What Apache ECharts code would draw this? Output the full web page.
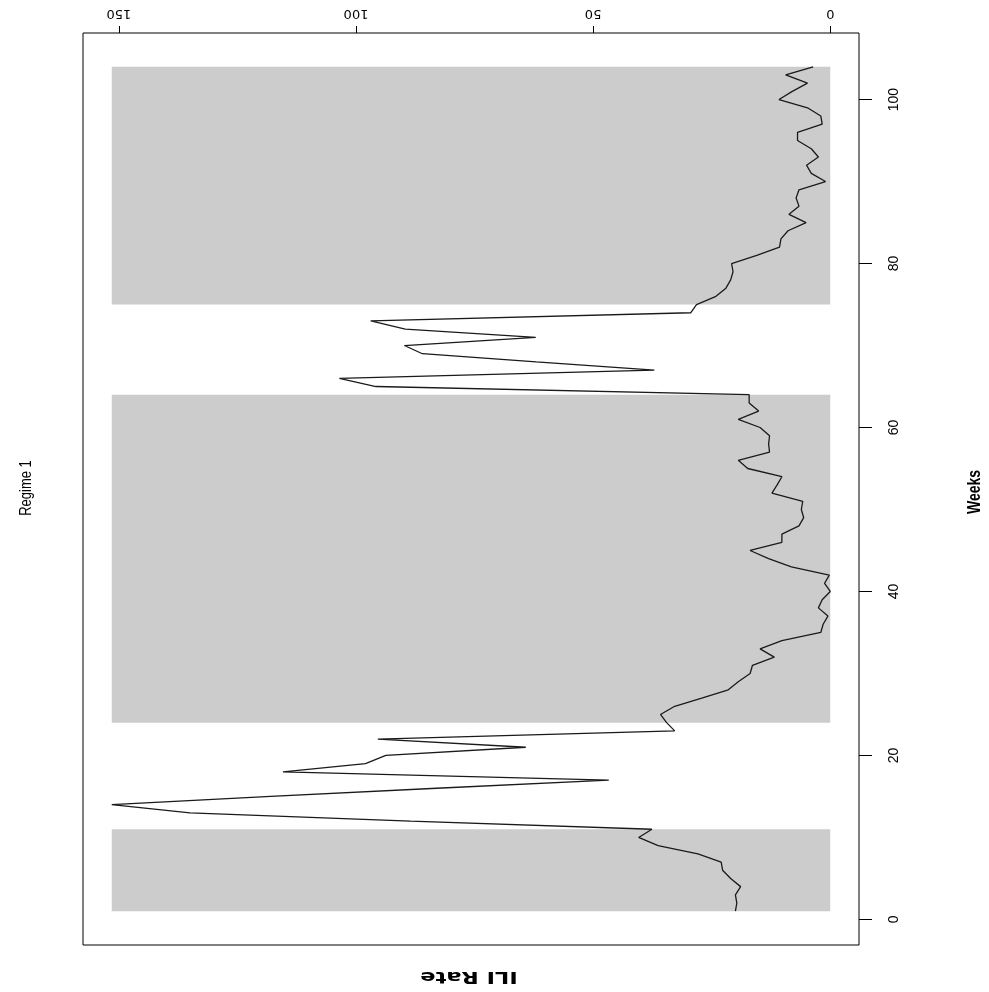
<!DOCTYPE html>
<html><head><meta charset="utf-8">
<script src="https://cdn.jsdelivr.net/npm/echarts@6/dist/echarts.min.js"></script>
<style>html,body{margin:0;padding:0;background:#fff}#c{width:989px;height:992px}</style>
</head><body><div id="c"></div>
<script>
// Weeks (vertical axis in this rotated figure)
const weeks = [1,2,3,4,5,6,7,8,9,10,11,12,13,14,15,16,17,18,19,20,
  21,22,23,24,25,26,27,28,29,30,31,32,33,34,35,36,37,38,39,40,
  41,42,43,44,45,46,47,48,49,50,51,52,53,54,55,56,57,58,59,60,
  61,62,63,64,65,66,67,68,69,70,71,72,73,74,75,76,77,78,79,80,
  81,82,83,84,85,86,87,88,89,90,91,92,93,94,95,96,97,98,99,100,
  101,102,103,104];
// ILI rate per week
const iliRate = [20.0,19.7,20.0,18.9,21.0,22.7,23.0,27.9,36.3,40.4,
  37.6,88.5,135.0,151.5,118.0,83.0,46.7,115.4,98.0,93.7,
  64.2,95.4,32.8,34.5,35.8,32.8,27.1,21.5,19.4,16.9,
  16.4,11.8,14.8,10.2,2.0,1.5,0.5,2.5,1.7,0.0,
  1.2,0.2,8.2,13.0,16.9,10.2,10.2,6.6,5.6,6.1,
  5.8,12.3,11.2,10.2,17.4,19.4,12.8,13.0,12.8,14.8,
  19.4,15.1,17.1,17.1,95.8,103.5,37.1,62.0,86.0,89.8,
  62.1,89.6,96.9,29.4,28.2,24.1,22.0,21.0,20.5,20.8,
  15.5,10.7,10.4,8.9,5.1,8.7,6.6,7.2,6.6,1.0,
  4.0,5.0,2.5,4.0,6.9,6.9,1.7,2.0,4.8,10.8,
  8.0,4.8,9.4,3.6];
// Shaded regime periods (weeks)
const regimeStart = [1, 24, 75];
const regimeEnd = [11, 64, 104];
// Tick labels
const rateTicks = [0, 50, 100, 150];
const weekTicks = [0, 20, 40, 60, 80, 100];
const titleText = 'Regime 1';
const xLabel = 'Weeks';
const yLabel = 'ILI Rate';

const rMin = Math.min(...iliRate), rMax = Math.max(...iliRate);
const wMin = Math.min(...weeks), wMax = Math.max(...weeks);
const rPad = (rMax - rMin) * 0.04, wPad = (wMax - wMin) * 0.04;

const seriesData = weeks.map((w, i) => [iliRate[i], w]);
const areas = regimeStart.map((s, i) => [
  { xAxis: rMin, yAxis: s },
  { xAxis: rMax, yAxis: regimeEnd[i] }
]);

const chart = echarts.init(document.getElementById('c'), null, { renderer: 'canvas' });
chart.setOption({
  animation: false,
  backgroundColor: '#ffffff',
  grid: { left: 83, top: 33, width: 776, height: 912, show: true,
    borderColor: '#000', borderWidth: 1, backgroundColor: 'transparent' },
  xAxis: {
    type: 'value', position: 'top', inverse: true,
    min: rMin - rPad, max: rMax + rPad,
    axisLine: { show: false, onZero: false }, splitLine: { show: false },
    axisTick: { show: true, length: 7, customValues: rateTicks, lineStyle: { color: '#000' } },
    axisLabel: { customValues: rateTicks, rotate: 180, margin: 13,
      fontFamily: 'DejaVu Sans', fontSize: 13, color: '#000' }
  },
  yAxis: {
    type: 'value', position: 'right',
    min: wMin - wPad, max: wMax + wPad,
    axisLine: { show: false, onZero: false }, splitLine: { show: false },
    axisTick: { show: true, length: 13, customValues: weekTicks, lineStyle: { color: '#000' } },
    axisLabel: { customValues: weekTicks, rotate: 90, margin: 28,
      fontFamily: 'Liberation Sans', fontSize: 14, color: '#000' }
  },
  graphic: [
    { type: 'text', x: 27, y: 488, rotation: Math.PI / 2, scaleY: 1.2,
      style: { text: titleText, font: '13px "Liberation Sans"', fill: '#000', align: 'center', verticalAlign: 'middle' } },
    { type: 'text', x: 975, y: 492, rotation: Math.PI / 2, scaleY: 1.35,
      style: { text: xLabel, font: 'bold 14px "Liberation Sans"', fill: '#000', align: 'center', verticalAlign: 'middle' } },
    { type: 'text', x: 469, y: 976, rotation: Math.PI, scaleX: 1.5,
      style: { text: yLabel, font: 'bold 15px "DejaVu Sans"', fill: '#000', align: 'center', verticalAlign: 'middle' } }
  ],
  series: [{
    type: 'line', data: seriesData, symbol: 'none', z: 3, silent: true,
    lineStyle: { color: '#1a1a1a', width: 1.3 },
    markArea: { silent: true, itemStyle: { color: '#cccccc' }, data: areas }
  }]
});
</script></body></html>
